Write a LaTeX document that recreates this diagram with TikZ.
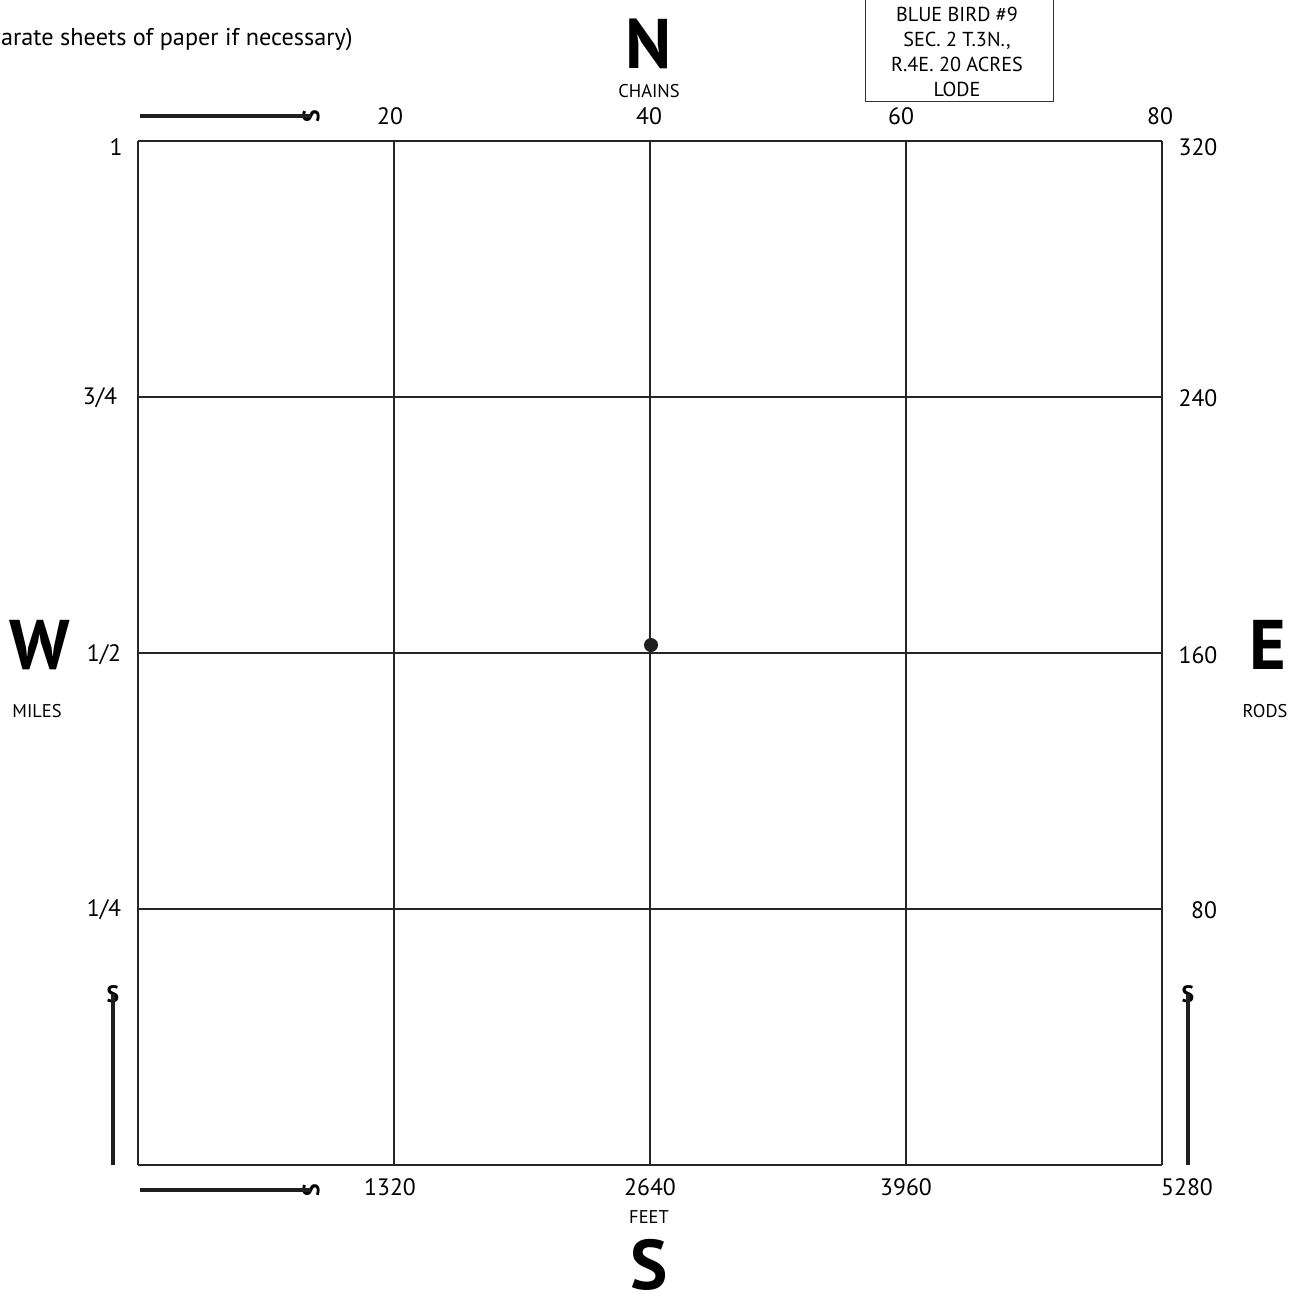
\documentclass[tikz,border=0pt]{standalone}
\usepackage{fontspec}
\setmainfont{PT Sans}
\usepackage{tikz}
\usetikzlibrary{positioning}

\begin{document}
\begin{tikzpicture}[x=0.02cm,y=-0.02cm,font=\fontsize{13.5}{15}\selectfont,
  lbl/.style={inner sep=0pt},
  small/.style={inner sep=0pt,font=\fontsize{10.5}{12}\selectfont},
  compass/.style={inner sep=0pt,anchor=base,text depth=0pt,font=\fontsize{40}{44}\selectfont\bfseries},
  hook/.style={inner sep=0pt,font=\fontsize{13.5}{15}\selectfont\bfseries},
  scalebar/.style={line width=2.8pt,black!88},
  gridline/.style={line width=0.6pt,black!85}]
\useasboundingbox (0,0) rectangle (1300,1299);
% section grid
\foreach \i in {0,...,4}{
  \draw[gridline] (138+256*\i,141) -- (138+256*\i,1165);
  \draw[gridline] (138,141+256*\i) -- (1162,141+256*\i);
}
\fill[black!88] (651,645) circle (7);
% compass letters
\node[compass] (north) at (649,68) {N};
\node[compass] (south) at (649,1289) {S};
\node[compass] (west) at (40,669) {W};
\node[compass] (east) at (1268,669) {E};
\node[small] (chains) at (649,91) {CHAINS};
\node[small] (feet) at (649,1217) {FEET};
\node[small] (miles) at (37,711) {MILES};
\node[small] (rods) at (1265,711) {RODS};
% scale labels
\node[lbl] (c20) at (390,116) {20};
\node[lbl] (c40) at (649,116) {40};
\node[lbl] (c60) at (901,116) {60};
\node[lbl] (c80) at (1160,116) {80};
\node[lbl] (f1320) at (390,1187) {1320};
\node[lbl] (f2640) at (650,1187) {2640};
\node[lbl] (f3960) at (906,1187) {3960};
\node[lbl] (f5280) at (1187,1187) {5280};
\node[lbl] (m1) at (116,147) {1};
\node[lbl] (m34) at (100,398) {3/4};
\node[lbl] (m12) at (104,655) {1/2};
\node[lbl] (m14) at (104,910) {1/4};
\node[lbl] (r320) at (1198,147) {320};
\node[lbl] (r240) at (1198,398) {240};
\node[lbl] (r160) at (1198,655) {160};
\node[lbl] (r80) at (1204,910) {80};
% scale bars
\node[hook,rotate=90] (stop) at (311,116) {S};
\node[hook,rotate=90] (sbot) at (311,1190) {S};
\node[hook] (sleft) at (113,994) {S};
\node[hook] (sright) at (1188,994) {S};
\draw[scalebar] (140,116) -- (stop.center);
\draw[scalebar] (140,1190) -- (sbot.center);
\draw[scalebar] (113,1165) -- (sleft.center);
\draw[scalebar] (1188,1165) -- (sright.center);
% claim box
\draw[line width=0.5pt,black!80] (865,-2) rectangle (1053,101);
\node[lbl,align=center,font=\fontsize{11.5}{14.2}\selectfont] (claim) at (957,52)
 {BLUE BIRD \#9\\SEC. 2 T.3N.,\\R.4E. 20 ACRES\\LODE};
\node[lbl,anchor=east,font=\fontsize{13.8}{15}\selectfont] (note) at (353,40) {arate sheets of paper if necessary)};
\end{tikzpicture}
\end{document}
